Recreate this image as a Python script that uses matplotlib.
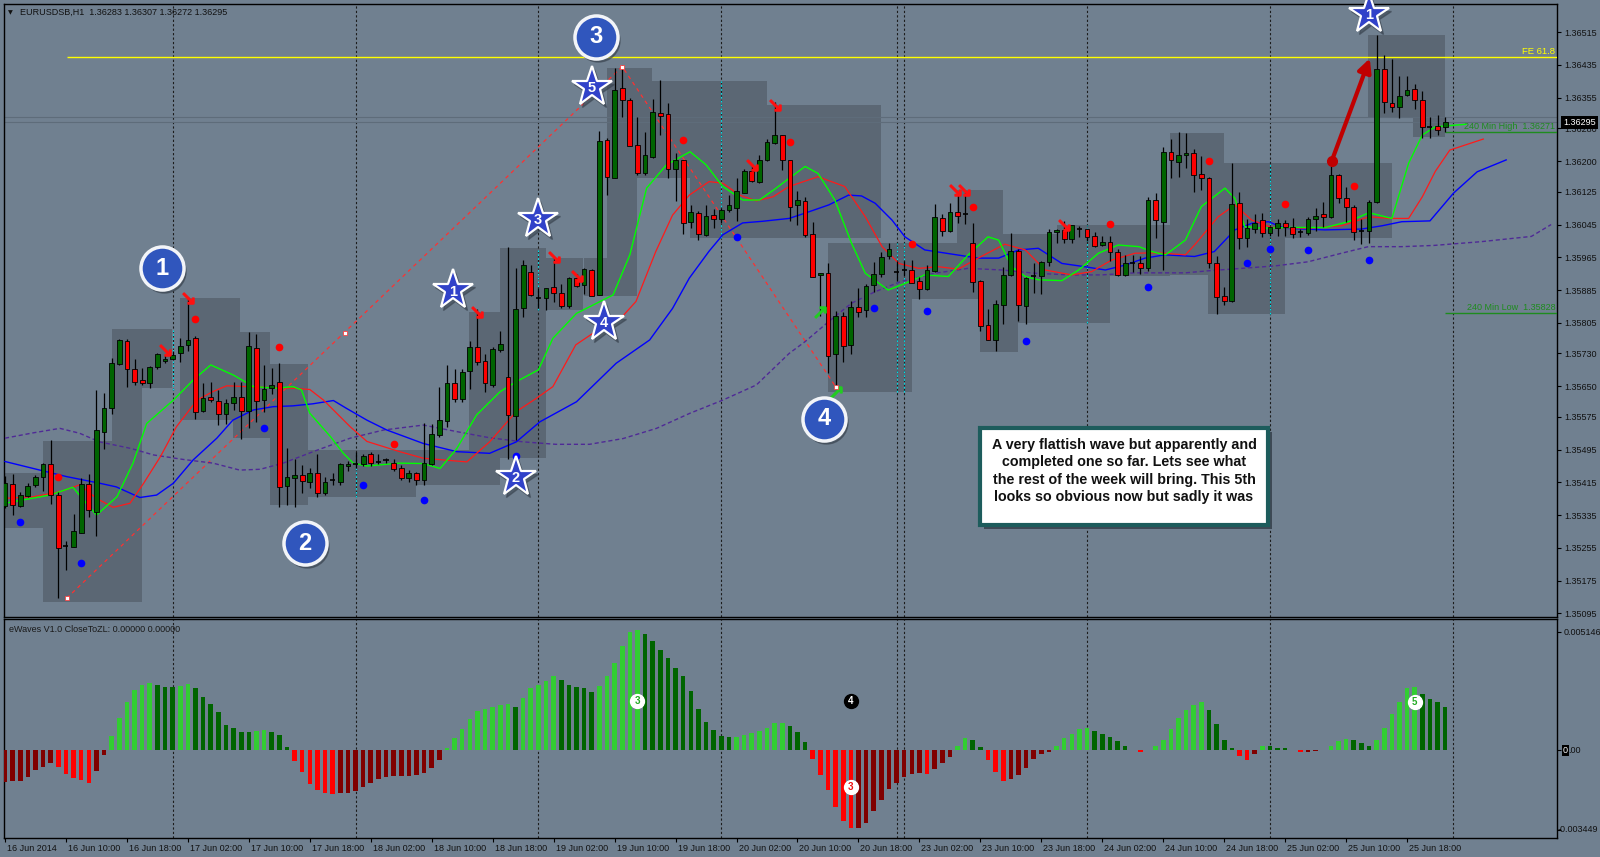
import numpy as np
import matplotlib
matplotlib.use("Agg")
import matplotlib.pyplot as plt
from matplotlib.patches import Rectangle
from matplotlib.transforms import ScaledTranslation, blended_transform_factory

plt.rcParams['font.family'] = ['Liberation Sans', 'DejaVu Sans']

# EURUSD H1 candles, one entry per bar (bar 0 = 16 Jun 2014)
opens = [
    1.35358, 1.35410, 1.35358, 1.35381, 1.35409, 1.35427, 1.35459, 1.35383, 1.35260, 1.35258,
    1.35292, 1.35412, 1.35342, 1.35537, 1.35597, 1.35704, 1.35761, 1.35692, 1.35665, 1.35657,
    1.35696, 1.35712, 1.35717, 1.35732, 1.35751, 1.35767, 1.35589, 1.35624, 1.35614, 1.35583,
    1.35608, 1.35624, 1.35589, 1.35744, 1.35616, 1.35645, 1.35661, 1.35406, 1.35426, 1.35433,
    1.35417, 1.35438, 1.35390, 1.35421, 1.35415, 1.35454, 1.35459, 1.35459, 1.35484, 1.35465,
    1.35469, 1.35463, 1.35450, 1.35425, 1.35437, 1.35421, 1.35459, 1.35531, 1.35565, 1.35658,
    1.35618, 1.35686, 1.35745, 1.35712, 1.35653, 1.35739, 1.35673, 1.35576, 1.35842, 1.35928,
    1.35865, 1.35865, 1.35892, 1.35877, 1.35845, 1.35915, 1.35897, 1.35934, 1.35874, 1.36251,
    1.36160, 1.36378, 1.36350, 1.36239, 1.36170, 1.36210, 1.36317, 1.36314, 1.36182, 1.36202,
    1.36051, 1.36073, 1.36019, 1.36069, 1.36058, 1.36080, 1.36086, 1.36123, 1.36175, 1.36148,
    1.36203, 1.36244, 1.36263, 1.36202, 1.36093, 1.36103, 1.36022, 1.35921, 1.35927, 1.35729,
    1.35821, 1.35750, 1.35843, 1.35836, 1.35898, 1.35924, 1.35967, 1.35928, 1.35935, 1.35935,
    1.35908, 1.35887, 1.35931, 1.36062, 1.36030, 1.36075, 1.36071, 1.36000, 1.35908, 1.35799,
    1.35763, 1.35849, 1.35921, 1.35981, 1.35845, 1.35920, 1.35920, 1.35953, 1.36026, 1.36031,
    1.36009, 1.36035, 1.36033, 1.36016, 1.35995, 1.36002, 1.35977, 1.35922, 1.35950, 1.35952,
    1.35939, 1.36106, 1.36052, 1.36222, 1.36198, 1.36215, 1.36219, 1.36169, 1.36160, 1.35950,
    1.35870, 1.35857, 1.36097, 1.36011, 1.36033, 1.36055, 1.36024, 1.36036, 1.36050, 1.36038,
    1.36028, 1.36024, 1.36059, 1.36072, 1.36063, 1.36166, 1.36109, 1.36087, 1.36030, 1.36030,
    1.36099, 1.36425, 1.36343, 1.36332, 1.36362, 1.36376, 1.36349, 1.36283, 1.36285, 1.36283,
]
highs = [
    1.35431, 1.35435, 1.35391, 1.35414, 1.35434, 1.35463, 1.35518, 1.35391, 1.35271, 1.35337,
    1.35425, 1.35435, 1.35641, 1.35633, 1.35718, 1.35766, 1.35766, 1.35717, 1.35694, 1.35700,
    1.35732, 1.35727, 1.35735, 1.35768, 1.35868, 1.35772, 1.35658, 1.35660, 1.35641, 1.35618,
    1.35660, 1.35660, 1.35783, 1.35777, 1.35701, 1.35694, 1.35706, 1.35498, 1.35471, 1.35458,
    1.35450, 1.35484, 1.35427, 1.35438, 1.35463, 1.35467, 1.35488, 1.35484, 1.35488, 1.35485,
    1.35475, 1.35471, 1.35458, 1.35446, 1.35441, 1.35559, 1.35557, 1.35647, 1.35703, 1.35691,
    1.35691, 1.35760, 1.35839, 1.35729, 1.35745, 1.35784, 1.35990, 1.35939, 1.35958, 1.35947,
    1.35890, 1.35890, 1.35965, 1.35900, 1.35917, 1.35923, 1.35940, 1.35936, 1.36274, 1.36256,
    1.36427, 1.36434, 1.36355, 1.36308, 1.36272, 1.36351, 1.36398, 1.36343, 1.36220, 1.36204,
    1.36092, 1.36077, 1.36092, 1.36084, 1.36086, 1.36118, 1.36158, 1.36182, 1.36192, 1.36215,
    1.36253, 1.36344, 1.36265, 1.36204, 1.36126, 1.36113, 1.36051, 1.35927, 1.35950, 1.35833,
    1.35831, 1.35858, 1.35890, 1.35899, 1.35953, 1.35978, 1.35999, 1.35956, 1.35956, 1.35958,
    1.35918, 1.35947, 1.36095, 1.36072, 1.36097, 1.36125, 1.36123, 1.36048, 1.35910, 1.35838,
    1.35860, 1.35942, 1.36024, 1.35985, 1.35918, 1.35950, 1.35956, 1.36034, 1.36034, 1.36053,
    1.36045, 1.36041, 1.36034, 1.36028, 1.36016, 1.36017, 1.35985, 1.35970, 1.35970, 1.35968,
    1.36113, 1.36121, 1.36235, 1.36254, 1.36270, 1.36268, 1.36229, 1.36213, 1.36162, 1.35967,
    1.35893, 1.36195, 1.36125, 1.36058, 1.36072, 1.36074, 1.36042, 1.36058, 1.36056, 1.36060,
    1.36033, 1.36064, 1.36085, 1.36099, 1.36187, 1.36168, 1.36138, 1.36093, 1.36058, 1.36105,
    1.36508, 1.36459, 1.36449, 1.36407, 1.36408, 1.36388, 1.36372, 1.36309, 1.36312, 1.36307,
]
lows = [
    1.35352, 1.35335, 1.35356, 1.35379, 1.35403, 1.35395, 1.35363, 1.35133, 1.35200, 1.35256,
    1.35291, 1.35331, 1.35284, 1.35496, 1.35581, 1.35702, 1.35649, 1.35654, 1.35654, 1.35645,
    1.35693, 1.35706, 1.35714, 1.35708, 1.35735, 1.35570, 1.35586, 1.35612, 1.35556, 1.35558,
    1.35593, 1.35521, 1.35549, 1.35562, 1.35587, 1.35632, 1.35356, 1.35359, 1.35355, 1.35388,
    1.35401, 1.35380, 1.35384, 1.35409, 1.35409, 1.35442, 1.35450, 1.35456, 1.35456, 1.35459,
    1.35463, 1.35442, 1.35421, 1.35417, 1.35408, 1.35408, 1.35457, 1.35527, 1.35551, 1.35612,
    1.35612, 1.35644, 1.35702, 1.35636, 1.35648, 1.35734, 1.35471, 1.35518, 1.35820, 1.35870,
    1.35840, 1.35836, 1.35855, 1.35842, 1.35842, 1.35892, 1.35875, 1.35870, 1.35872, 1.36118,
    1.36158, 1.36308, 1.36237, 1.36167, 1.36167, 1.36208, 1.36265, 1.36160, 1.36103, 1.36021,
    1.36037, 1.36008, 1.36017, 1.36036, 1.36050, 1.36076, 1.36053, 1.36121, 1.36150, 1.36146,
    1.36200, 1.36242, 1.36178, 1.36054, 1.36045, 1.36015, 1.35916, 1.35822, 1.35682, 1.35642,
    1.35709, 1.35729, 1.35820, 1.35820, 1.35881, 1.35917, 1.35960, 1.35906, 1.35920, 1.35902,
    1.35862, 1.35885, 1.35928, 1.36016, 1.36028, 1.36050, 1.36046, 1.35880, 1.35784, 1.35762,
    1.35737, 1.35802, 1.35919, 1.35810, 1.35802, 1.35878, 1.35875, 1.35944, 1.35999, 1.35999,
    1.36001, 1.36014, 1.36006, 1.35991, 1.35993, 1.35957, 1.35919, 1.35920, 1.35928, 1.35923,
    1.35931, 1.36013, 1.35935, 1.36158, 1.36161, 1.36183, 1.36125, 1.36129, 1.35938, 1.35826,
    1.35848, 1.35855, 1.35985, 1.35991, 1.36025, 1.36014, 1.36017, 1.36017, 1.36016, 1.36011,
    1.36014, 1.36020, 1.36030, 1.36038, 1.36060, 1.36097, 1.36052, 1.36007, 1.35998, 1.35999,
    1.36097, 1.36317, 1.36319, 1.36305, 1.36359, 1.36327, 1.36256, 1.36256, 1.36265, 1.36272,
]
closes = [
    1.35414, 1.35360, 1.35385, 1.35407, 1.35427, 1.35461, 1.35384, 1.35254, 1.35260, 1.35296,
    1.35411, 1.35348, 1.35542, 1.35596, 1.35706, 1.35764, 1.35691, 1.35661, 1.35657, 1.35696,
    1.35728, 1.35717, 1.35726, 1.35749, 1.35764, 1.35586, 1.35622, 1.35616, 1.35583, 1.35608,
    1.35624, 1.35590, 1.35748, 1.35615, 1.35643, 1.35654, 1.35403, 1.35427, 1.35433, 1.35419,
    1.35438, 1.35388, 1.35415, 1.35421, 1.35459, 1.35460, 1.35459, 1.35479, 1.35463, 1.35465,
    1.35469, 1.35448, 1.35425, 1.35437, 1.35421, 1.35462, 1.35532, 1.35568, 1.35659, 1.35618,
    1.35685, 1.35745, 1.35709, 1.35657, 1.35741, 1.35753, 1.35579, 1.35839, 1.35947, 1.35872,
    1.35865, 1.35889, 1.35878, 1.35845, 1.35915, 1.35896, 1.35936, 1.35871, 1.36249, 1.36162,
    1.36374, 1.36349, 1.36238, 1.36170, 1.36215, 1.36321, 1.36311, 1.36181, 1.36203, 1.36050,
    1.36076, 1.36021, 1.36066, 1.36059, 1.36081, 1.36094, 1.36126, 1.36175, 1.36152, 1.36204,
    1.36247, 1.36263, 1.36203, 1.36089, 1.36104, 1.36019, 1.35918, 1.35926, 1.35725, 1.35821,
    1.35748, 1.35844, 1.35832, 1.35896, 1.35924, 1.35966, 1.35986, 1.35928, 1.35935, 1.35903,
    1.35887, 1.35935, 1.36064, 1.36030, 1.36076, 1.36067, 1.36071, 1.35905, 1.35798, 1.35763,
    1.35850, 1.35922, 1.35980, 1.35848, 1.35914, 1.35920, 1.35954, 1.36027, 1.36031, 1.36009,
    1.36043, 1.36035, 1.36014, 1.35993, 1.36003, 1.35977, 1.35921, 1.35950, 1.35950, 1.35938,
    1.36106, 1.36056, 1.36222, 1.36202, 1.36214, 1.36219, 1.36166, 1.36160, 1.35950, 1.35867,
    1.35857, 1.36095, 1.36011, 1.36036, 1.36050, 1.36024, 1.36038, 1.36050, 1.36038, 1.36022,
    1.36028, 1.36058, 1.36067, 1.36064, 1.36166, 1.36111, 1.36087, 1.36028, 1.36030, 1.36101,
    1.36425, 1.36345, 1.36332, 1.36359, 1.36374, 1.36349, 1.36283, 1.36283, 1.36277, 1.36295,
]

# eWaves CloseToZL histogram, one value per bar
ewaves = [
    -0.00136, -0.00132, -0.00132, -0.00114, -0.00085, -0.00074, -0.00056, -0.00071, -0.00103, -0.00119,
    -0.00130, -0.00140, -0.00090, -0.00019, 0.00062, 0.00140, 0.00211, 0.00262, 0.00283, 0.00292,
    0.00283, 0.00276, 0.00273, 0.00278, 0.00289, 0.00269, 0.00231, 0.00201, 0.00165, 0.00111,
    0.00095, 0.00081, 0.00080, 0.00082, 0.00088, 0.00081, 0.00067, 0.00013, -0.00045, -0.00094,
    -0.00146, -0.00172, -0.00184, -0.00188, -0.00184, -0.00184, -0.00176, -0.00159, -0.00143, -0.00126,
    -0.00114, -0.00110, -0.00110, -0.00110, -0.00106, -0.00097, -0.00077, -0.00040, 0.00010, 0.00055,
    0.00094, 0.00134, 0.00171, 0.00179, 0.00187, 0.00198, 0.00200, 0.00189, 0.00228, 0.00269,
    0.00283, 0.00301, 0.00322, 0.00305, 0.00283, 0.00273, 0.00272, 0.00252, 0.00278, 0.00322,
    0.00380, 0.00451, 0.00512, 0.00521, 0.00505, 0.00474, 0.00437, 0.00401, 0.00359, 0.00322,
    0.00256, 0.00178, 0.00123, 0.00087, 0.00062, 0.00058, 0.00059, 0.00065, 0.00074, 0.00084,
    0.00097, 0.00119, 0.00120, 0.00107, 0.00078, 0.00036, -0.00036, -0.00106, -0.00172, -0.00246,
    -0.00305, -0.00337, -0.00336, -0.00317, -0.00263, -0.00215, -0.00168, -0.00143, -0.00116, -0.00101,
    -0.00098, -0.00101, -0.00081, -0.00056, -0.00027, 0.00019, 0.00055, 0.00045, 0.00013, -0.00040,
    -0.00094, -0.00132, -0.00123, -0.00106, -0.00077, -0.00039, -0.00017, -0.00009, 0.00020, 0.00055,
    0.00072, 0.00094, 0.00095, 0.00085, 0.00072, 0.00056, 0.00039, 0.00019, 0.00003, -0.00007,
    0.00002, 0.00019, 0.00046, 0.00094, 0.00142, 0.00176, 0.00195, 0.00208, 0.00176, 0.00113,
    0.00043, 0.00012, -0.00025, -0.00040, -0.00016, 0.00020, 0.00017, 0.00010, 0.00009, 0.00003,
    -0.00007, -0.00006, -0.00004, 0.00003, 0.00020, 0.00039, 0.00048, 0.00046, 0.00033, 0.00019,
    0.00043, 0.00098, 0.00156, 0.00210, 0.00272, 0.00273, 0.00246, 0.00221, 0.00208, 0.00188,
]

time_labels = [
    "16 Jun 2014", "16 Jun 10:00", "16 Jun 18:00", "17 Jun 02:00", "17 Jun 10:00", "17 Jun 18:00",
    "18 Jun 02:00", "18 Jun 10:00", "18 Jun 18:00", "19 Jun 02:00", "19 Jun 10:00", "19 Jun 18:00",
    "20 Jun 02:00", "20 Jun 10:00", "20 Jun 18:00", "23 Jun 02:00", "23 Jun 10:00", "23 Jun 18:00",
    "24 Jun 02:00", "24 Jun 10:00", "24 Jun 18:00", "25 Jun 02:00", "25 Jun 10:00", "25 Jun 18:00",
]
day_separators = [22, 46, 70, 94, 117, 118, 142, 166, 190]
price_ticks = [1.36515, 1.36435, 1.36355, 1.36280, 1.36200, 1.36125, 1.36045, 1.35965, 1.35885,
               1.35805, 1.35730, 1.35650, 1.35575, 1.35495, 1.35415, 1.35335, 1.35255, 1.35175, 1.35095]
osc_max, osc_min = 0.005146, -0.003449

# shifted moving averages (bar, price)
ma_green_x = [0, 5.9, 8.9, 12.0, 14.7, 16.8, 18.6, 22.1, 24.7, 27.0, 30.0, 32.6, 35.6, 37.8, 38.9, 40.0,
              42.7, 44.4, 45.7, 47.5, 51.8, 54.9, 57.1, 59.3, 61.9, 65.0, 67.1, 70.0, 71.9, 75.0, 79.8,
              82.0, 84.2, 86.8, 89.9, 92.0, 94.2, 96.8, 99.0, 101.2, 102.9, 105.0, 106.7, 108.9, 111.1,
              112.9, 115.9, 118.1, 120.7, 123.8, 126.4, 129.0, 130.4, 132.1, 133.9, 135.6, 138.7, 140.9,
              143.5, 146.1, 148.8, 150.5, 152.3, 154.9, 157.0, 160.1, 161.4, 162.7, 164.9, 168.9, 173.3,
              176.3, 179.0, 182.0, 184.2, 186.0, 187.7, 191.7]
ma_green_y = [1.35364, 1.35384, 1.35403, 1.35335, 1.35380, 1.35462, 1.35559, 1.35616, 1.35665, 1.35702,
              1.35677, 1.35649, 1.35645, 1.35649, 1.35641, 1.35584, 1.35527, 1.35486, 1.35462, 1.35455,
              1.35462, 1.35461, 1.35449, 1.35498, 1.35580, 1.35637, 1.35661, 1.35690, 1.35767, 1.35828,
              1.35873, 1.35971, 1.36134, 1.36191, 1.36223, 1.36191, 1.36138, 1.36105, 1.36105, 1.36134,
              1.36158, 1.36187, 1.36170, 1.36105, 1.35999, 1.35926, 1.35885, 1.35901, 1.35922, 1.35918,
              1.35971, 1.36015, 1.36007, 1.35942, 1.35918, 1.35910, 1.35908, 1.35934, 1.35975, 1.35995,
              1.35991, 1.35979, 1.35971, 1.36007, 1.36089, 1.36134, 1.36109, 1.36040, 1.36036, 1.36038,
              1.36038, 1.36052, 1.36074, 1.36060, 1.36195, 1.36264, 1.36284, 1.36290]
ma_red_x = [0, 3.7, 7.2, 9.8, 12.0, 14.2, 16.4, 18.2, 20.4, 22.5, 25.2, 27.3, 29.1, 31.7, 34.3, 37.8,
            40.0, 41.8, 45.3, 47.5, 51.8, 54.9, 60.6, 63.6, 67.1, 69.7, 71.9, 74.9, 78.4, 81.0, 82.8,
            85.4, 87.6, 89.8, 92.4, 94.2, 96.4, 98.6, 100.8, 102.9, 106.7, 110.2, 112.9, 115.1, 117.3,
            119.9, 122.5, 125.1, 127.7, 131.2, 133.9, 136.5, 140.0, 142.6, 145.2, 148.3, 151.3, 154.9,
            156.1, 159.2, 161.4, 163.6, 166.2, 171.0, 175.4, 179.0, 181.6, 184.2, 186.0, 187.7, 189.6, 194.0]
ma_red_y = [1.35376, 1.35380, 1.35392, 1.35409, 1.35376, 1.35354, 1.35364, 1.35413, 1.35478, 1.35551,
            1.35616, 1.35637, 1.35651, 1.35649, 1.35647, 1.35645, 1.35642, 1.35616, 1.35551, 1.35515,
            1.35490, 1.35474, 1.35465, 1.35514, 1.35588, 1.35620, 1.35649, 1.35751, 1.35795, 1.35820,
            1.35857, 1.35979, 1.36068, 1.36117, 1.36150, 1.36146, 1.36117, 1.36103, 1.36113, 1.36138,
            1.36162, 1.36138, 1.36064, 1.35991, 1.35950, 1.35938, 1.35942, 1.35936, 1.35963, 1.35997,
            1.35983, 1.35934, 1.35922, 1.35930, 1.35958, 1.35975, 1.35976, 1.35971, 1.35995, 1.36064,
            1.36093, 1.36056, 1.36038, 1.36036, 1.36042, 1.36064, 1.36060, 1.36060, 1.36113, 1.36175,
            1.36227, 1.36254]
ma_blue_x = [0, 3.7, 8.1, 12.4, 14.6, 17.7, 19.9, 22.1, 24.7, 27.8, 29.9, 32.6, 35.2, 37.8, 40.4, 43.1,
             44.8, 47.5, 50.1, 54.9, 59.3, 63.6, 67.1, 70.2, 75.0, 80.2, 84.6, 87.6, 89.8, 92.4, 94.2,
             96.8, 99.4, 102.9, 105.0, 108.1, 110.7, 112.4, 114.2, 116.4, 118.1, 120.7, 124.2, 127.7,
             130.4, 133.0, 135.6, 138.7, 141.7, 144.4, 147.0, 149.6, 152.2, 156.1, 158.7, 161.4, 163.6,
             165.8, 167.9, 173.2, 178.0, 180.7, 183.3, 187.0, 190.1, 193.2, 197.0]
ma_blue_y = [1.35466, 1.35449, 1.35429, 1.35413, 1.35404, 1.35378, 1.35384, 1.35413, 1.35470, 1.35523,
             1.35567, 1.35592, 1.35600, 1.35602, 1.35607, 1.35615, 1.35596, 1.35567, 1.35543, 1.35510,
             1.35490, 1.35486, 1.35514, 1.35563, 1.35612, 1.35706, 1.35763, 1.35840, 1.35914, 1.35980,
             1.36020, 1.36049, 1.36053, 1.36060, 1.36073, 1.36093, 1.36117, 1.36115, 1.36097, 1.36056,
             1.36015, 1.35983, 1.35973, 1.35963, 1.35963, 1.35983, 1.35987, 1.35950, 1.35942, 1.35934,
             1.35946, 1.35963, 1.35971, 1.35967, 1.35979, 1.36032, 1.36048, 1.36052, 1.36036, 1.36032,
             1.36034, 1.36042, 1.36052, 1.36054, 1.36122, 1.36174, 1.36203]
ma_slow_x = [0, 3.7, 7.2, 9.8, 12.4, 16.5, 19.5, 23.4, 27.3, 30.8, 33.5, 36.5, 41.0, 45.3, 49.7, 54.9,
             59.3, 63.6, 68.0, 72.3, 76.7, 81.1, 85.5, 89.9, 94.2, 98.6, 102.9, 105.0, 108.1, 111.1,
             114.2, 117.6, 122.0, 126.4, 130.8, 135.2, 139.6, 143.9, 148.3, 154.9, 157.9, 162.3, 166.7,
             171.0, 175.4, 178.9, 183.3, 187.5, 193.6, 200.3, 202.9]
ma_slow_y = [1.35523, 1.35536, 1.35547, 1.35535, 1.35514, 1.35498, 1.35482, 1.35471, 1.35462, 1.35445,
             1.35447, 1.35462, 1.35494, 1.35523, 1.35543, 1.35555, 1.35539, 1.35524, 1.35514, 1.35508,
             1.35508, 1.35522, 1.35547, 1.35584, 1.35616, 1.35653, 1.35730, 1.35759, 1.35808, 1.35853,
             1.35881, 1.35906, 1.35926, 1.35938, 1.35934, 1.35926, 1.35922, 1.35922, 1.35927, 1.35927,
             1.35932, 1.35938, 1.35944, 1.35954, 1.35975, 1.35991, 1.35991, 1.35994, 1.36003, 1.36016,
             1.36045]

# 240 min range boxes: (first bar, last bar, high, low)
boxes = [
    (-0.1, 5.0, 1.35438, 1.35303), (5.0, 14.0, 1.35516, 1.35122), (14.0, 18.0, 1.35790, 1.35122),
    (18.0, 21.9, 1.35790, 1.35645), (23.0, 30.8, 1.35865, 1.35567), (29.9, 34.8, 1.35782, 1.35523),
    (34.8, 39.8, 1.35704, 1.35359), (39.8, 53.9, 1.35494, 1.35379), (53.9, 61.9, 1.35494, 1.35408),
    (60.9, 65.0, 1.35831, 1.35408), (65.0, 71.0, 1.35988, 1.35475), (69.9, 75.9, 1.35963, 1.35836),
    (76.0, 82.9, 1.35963, 1.35870), (79.0, 84.9, 1.36428, 1.36159), (79.0, 82.9, 1.36159, 1.35870),
    (84.9, 100.0, 1.36396, 1.36159), (100.0, 115.0, 1.36337, 1.36012), (89.9, 103.0, 1.36159, 1.36012),
    (108.0, 119.0, 1.36000, 1.35636), (119.0, 124.9, 1.36000, 1.35863), (124.9, 131.0, 1.36129, 1.35863),
    (128.0, 132.9, 1.35863, 1.35733), (131.0, 145.0, 1.36022, 1.35804), (138.1, 152.9, 1.36044, 1.35919),
    (152.9, 160.0, 1.36269, 1.35922), (157.9, 168.0, 1.36196, 1.35827), (168.0, 182.0, 1.36196, 1.36012),
    (178.9, 189.0, 1.36508, 1.36309), (184.8, 189.0, 1.36309, 1.36259),
]
# cyan day-open markers: (bar, top, bottom)
cyan_marks = [(22, 1.35792, 1.35640), (46, 1.35487, 1.35379), (70, 1.35988, 1.35836),
              (94, 1.36396, 1.36012), (117, 1.36000, 1.35636), (118, 1.36000, 1.35636),
              (142, 1.36044, 1.35804), (166, 1.36196, 1.35827)]

red_dot_x = [7, 25, 36, 51, 89, 103, 119, 127, 145, 158, 168, 177]
red_dot_y = [1.35429, 1.35814, 1.35746, 1.35508, 1.36252, 1.36246, 1.35998, 1.36089, 1.36046, 1.36201,
             1.36095, 1.36139]
blue_dot_x = [2, 10, 34, 47, 55, 67, 96, 114, 121, 134, 150, 163, 166, 171, 179]
blue_dot_y = [1.35319, 1.35218, 1.35549, 1.35408, 1.35372, 1.35480, 1.36015, 1.35842, 1.35834, 1.35761,
              1.35892, 1.35950, 1.35985, 1.35983, 1.35958]
sell_x = [21, 24, 62, 72, 75, 98, 101, 124.7, 125.8, 139]
sell_y = [1.35738, 1.35865, 1.35832, 1.35966, 1.35920, 1.36191, 1.36337, 1.36130, 1.36130, 1.36044]
buy_x = [107, 109]
buy_y = [1.35832, 1.35636]

# FE tool anchors and level
fe_x = [8.1, 81.0, 109.0]
fe_y = [1.35132, 1.36431, 1.35649]
fe_mid = (44.6, 1.35780)
fe_level = 1.36455
bid, ask = 1.36295, 1.36309
h4_high, h4_low = 1.36271, 1.35828

wave_circles = [("1", 20.6, 1.35938), ("2", 39.4, 1.35266), ("3", 77.6, 1.36504), ("4", 107.5, 1.35570)]
wave_stars = [("1", 58.8, 1.35885), ("2", 67.0, 1.35429), ("3", 69.9, 1.36059), ("4", 78.6, 1.35808),
              ("5", 77.0, 1.36382), ("1", 179.0, 1.36560)]
hist_badges = [("3", 83, 0.00214, "white", "#22AA22"), ("4", 111, 0.00214, "black", "white"),
               ("3", 111, -0.00161, "white", "#EE1111"), ("5", 185, 0.00211, "white", "#22AA22")]
arrow_from = (174.1, 1.36200)
arrow_to = (179.1, 1.36451)

note = ("A very flattish wave but apparently and\n"
        "completed one so far. Lets see what\n"
        "the rest of the week will bring. This 5th\n"
        "looks so obvious now but sadly it was")

# ---------------- drawing ----------------
W, H = 1600, 857
BG = '#708090'
BOX = '#5B6774'

fig = plt.figure(figsize=(W / 100, H / 100), dpi=100)
fig.patch.set_facecolor(BG)
ax = fig.add_axes([4 / W, (H - 617) / H, 1553 / W, 613 / H])
ax2 = fig.add_axes([4 / W, (H - 838) / H, 1553 / W, 219 / H])

for a in (ax, ax2):
    a.set_facecolor(BG)
    a.set_xlim(-0.13, 203.67)
    for s in a.spines.values():
        s.set_color('black')
        s.set_linewidth(1.0)
    for b in day_separators:
        a.axvline(b, color='#1c1c1c', lw=0.8, ls=(0, (2, 2)), zorder=2)
ax.set_ylim(1.35086, 1.36584)
ax2.set_ylim(-0.003804, 0.005696)

for x0, x1, hi, lo in boxes:
    ax.add_patch(Rectangle((x0, lo), x1 - x0, hi - lo, facecolor=BOX, edgecolor='none', zorder=1))
for b, top, bot in cyan_marks:
    ax.vlines(b, bot, top, color='#00E0E8', lw=0.8, ls=(0, (1.5, 2)), zorder=2.1)

# horizontal levels
ax.axhline(ask, color='#5E6C7A', lw=0.8, zorder=2)
ax.axhline(bid, color='#5E6C7A', lw=0.8, zorder=2)
ax.hlines(fe_level, fe_x[0], 203.67, color='#FFFF00', lw=1.0, zorder=3)
ax.hlines([h4_high, h4_low], 189, 203.67, color='#1E8C1E', lw=1.0, zorder=3)
bt = blended_transform_factory(ax.transAxes, ax.transData)
ax.text(0.999, fe_level + 0.00003, "FE 61.8", transform=bt, ha='right', va='bottom',
        color='#FFFF00', fontsize=6.8)
ax.text(0.999, h4_high + 0.00003, "240 Min High  1.36271", transform=bt, ha='right', va='bottom',
        color='#1E8C1E', fontsize=6.5)
ax.text(0.999, h4_low + 0.00003, "240 Min Low  1.35828", transform=bt, ha='right', va='bottom',
        color='#1E8C1E', fontsize=6.5)

# FE dashed legs
ax.plot(fe_x, fe_y, color='#FF3030', lw=0.9, ls=(0, (3, 3)), zorder=3)
ax.plot(fe_x + [fe_mid[0]], fe_y + [fe_mid[1]], 's', ms=3, mfc='white', mec='#FF3030',
        mew=0.5, ls='none', zorder=8)

# moving averages
ax.plot(ma_slow_x, ma_slow_y, color='#4F2A96', lw=1.0, ls=(0, (3, 2)), zorder=4)
ax.plot(ma_blue_x, ma_blue_y, color='#0000FF', lw=1.0, zorder=4)
ax.plot(ma_red_x, ma_red_y, color='#FF1A1A', lw=0.9, zorder=4)
ax.plot(ma_green_x, ma_green_y, color='#00FF00', lw=1.0, zorder=4)

# candles
o, h, l, c = map(np.array, (opens, highs, lows, closes))
xs = np.arange(len(o))
up, dn, dj = c > o, c < o, c == o
ax.vlines(xs, l, h, color='black', lw=0.9, zorder=5)
ax.bar(xs[up], c[up] - o[up], bottom=o[up], width=0.62, color='#006400',
       edgecolor='black', linewidth=0.6, zorder=6)
ax.bar(xs[dn], o[dn] - c[dn], bottom=c[dn], width=0.62, color='#FF0000',
       edgecolor='black', linewidth=0.6, zorder=6)
ax.hlines(c[dj], xs[dj] - 0.33, xs[dj] + 0.33, color='black', lw=1.2, zorder=6)

# signal dots and arrows
ax.plot(red_dot_x, red_dot_y, 'o', ms=4.5, color='#FF0000', ls='none', zorder=7)
ax.plot(blue_dot_x, blue_dot_y, 'o', ms=4.5, color='#0000FF', ls='none', zorder=7)
ax.plot(sell_x, sell_y, marker=r'$\searrow$', ms=8, color='#FF1010', ls='none', zorder=7)
ax.plot(buy_x, buy_y, marker=r'$\nearrow$', ms=8, color='#22CC22', ls='none', zorder=7)

ax.annotate('', xy=arrow_to, xytext=arrow_from, zorder=8,
            arrowprops=dict(arrowstyle='-|>', color='#C00000', lw=3, mutation_scale=20,
                            shrinkA=0, shrinkB=0))
ax.plot(*arrow_from, 'o', ms=7, color='#C00000', zorder=8)

# wave count labels
shadow = ax.transData + ScaledTranslation(2 / 100, -3 / 100, fig.dpi_scale_trans)
for lbl, bx, py in wave_circles:
    ax.plot(bx, py, 'o', ms=31, color='#3A4450', alpha=0.6, transform=shadow, zorder=8, clip_on=False)
    ax.plot(bx, py, 'o', ms=31, mfc='#3056BD', mec='#F2F4F8', mew=2.5, zorder=9, clip_on=False)
    ax.text(bx, py, lbl, color='white', fontsize=17, fontweight='bold', ha='center',
            va='center', zorder=10, clip_on=False)
for lbl, bx, py in wave_stars:
    ax.plot(bx, py, '*', ms=30, color='#3A4450', alpha=0.6, transform=shadow, zorder=8, clip_on=False)
    ax.plot(bx, py, '*', ms=30, mfc='#3142C9', mec='white', mew=1.6, zorder=9, clip_on=False)
    ax.text(bx, py - 0.00004, lbl, color='white', fontsize=10.5, fontweight='bold', ha='center',
            va='center', zorder=10, clip_on=False)

# right price axis
ax.set_xticks([])
ax.yaxis.tick_right()
ax.set_yticks(price_ticks)
ax.set_yticklabels([f"{v:.5f}" for v in price_ticks])
ax.tick_params(axis='y', direction='out', length=3, width=0.8, labelsize=6.5, pad=2,
               labelcolor='#111111')
ax.annotate(f"{bid:.5f}", xy=(1, bid), xycoords=bt, xytext=(6, 0), textcoords='offset pixels',
            ha='left', va='center', color='white', fontsize=6.5, zorder=12, annotation_clip=False,
            bbox=dict(boxstyle='square,pad=0.25', fc='black', ec='none'))

# lower panel histogram
ew = np.array(ewaves)
d = np.diff(ew, prepend=ew[0])
cols = np.where(ew >= 0, np.where(d >= 0, '#32CD32', '#006400'),
                np.where(d < 0, '#FF0000', '#800000'))
ax2.bar(np.arange(len(ew)), ew, width=0.6, color=cols, edgecolor='none', zorder=3)
for lbl, bx, v, face, tc in hist_badges:
    ax2.plot(bx, v, 'o', ms=10, mfc=face, mec=face, zorder=6)
    ax2.text(bx, v, lbl, color=tc, fontsize=7, fontweight='bold', ha='center', va='center', zorder=7)
ax2.text(0.003, 0.954, "eWaves V1.0 CloseToZL: 0.00000 0.00000", transform=ax2.transAxes,
         fontsize=6.5, color='#1a1a1a', va='center', ha='left')

ax2.yaxis.tick_right()
ax2.set_yticks([osc_max, 0.0, osc_min])
ax2.set_yticklabels([f"{osc_max:.6f}", "", ""])
ax2.tick_params(axis='y', direction='out', length=3, width=0.8, labelsize=6.5, pad=2,
                labelcolor='#111111')
bt2 = blended_transform_factory(fig.transFigure, ax2.transData)
ax2.text(1598 / W, osc_min, f"{osc_min:.6f}", transform=bt2, ha='right', va='center',
         fontsize=6.5, color='#111111', clip_on=False)
# zero label: current-value marker box on the first digit
ax2.text(1562.8 / W, 0.0, "0", transform=bt2, ha='left', va='center', fontsize=6.5,
         color='white', clip_on=False, zorder=12,
         bbox=dict(boxstyle='square,pad=0.12', fc='black', ec='none'))
ax2.text(1568.6 / W, 0.0, ".00", transform=bt2, ha='left', va='center', fontsize=6.5,
         color='#111111', clip_on=False)
ax2.set_xticks(np.arange(0, 8 * len(time_labels), 8))
ax2.set_xticklabels(time_labels)
ax2.tick_params(axis='x', direction='out', length=3, width=0.8, labelsize=6.5, pad=1.5,
                labelcolor='#111111')
shift = ScaledTranslation(2 / 100, 0, fig.dpi_scale_trans)
for t in ax2.get_xticklabels():
    t.set_ha('left')
    t.set_transform(t.get_transform() + shift)

# header and note box
fig.text(10 / W, 1 - 12.7 / H, "\u25BC", fontsize=4.5, color='#111111', va='center', ha='center',
         family='DejaVu Sans')
fig.text(20 / W, 1 - 12.7 / H, "EURUSDSB,H1  1.36283 1.36307 1.36272 1.36295", fontsize=6.5,
         color='#111111', va='center', ha='left')

fig.patches.append(Rectangle((984 / W, 1 - 529 / H), 288 / W, 97 / H, transform=fig.transFigure,
                             facecolor='#3E4955', edgecolor='none', zorder=20))
fig.patches.append(Rectangle((980 / W, 1 - 525 / H), 288 / W, 97 / H, transform=fig.transFigure,
                             facecolor='white', edgecolor='#1D5C5C', linewidth=3, zorder=21))
fig.text(1124 / W, 1 - 471 / H, note, ha='center', va='center', fontsize=10.3, fontweight='bold',
         linespacing=1.29, color='#111111', zorder=22)

fig.savefig('out.png', dpi=100, facecolor=BG)
